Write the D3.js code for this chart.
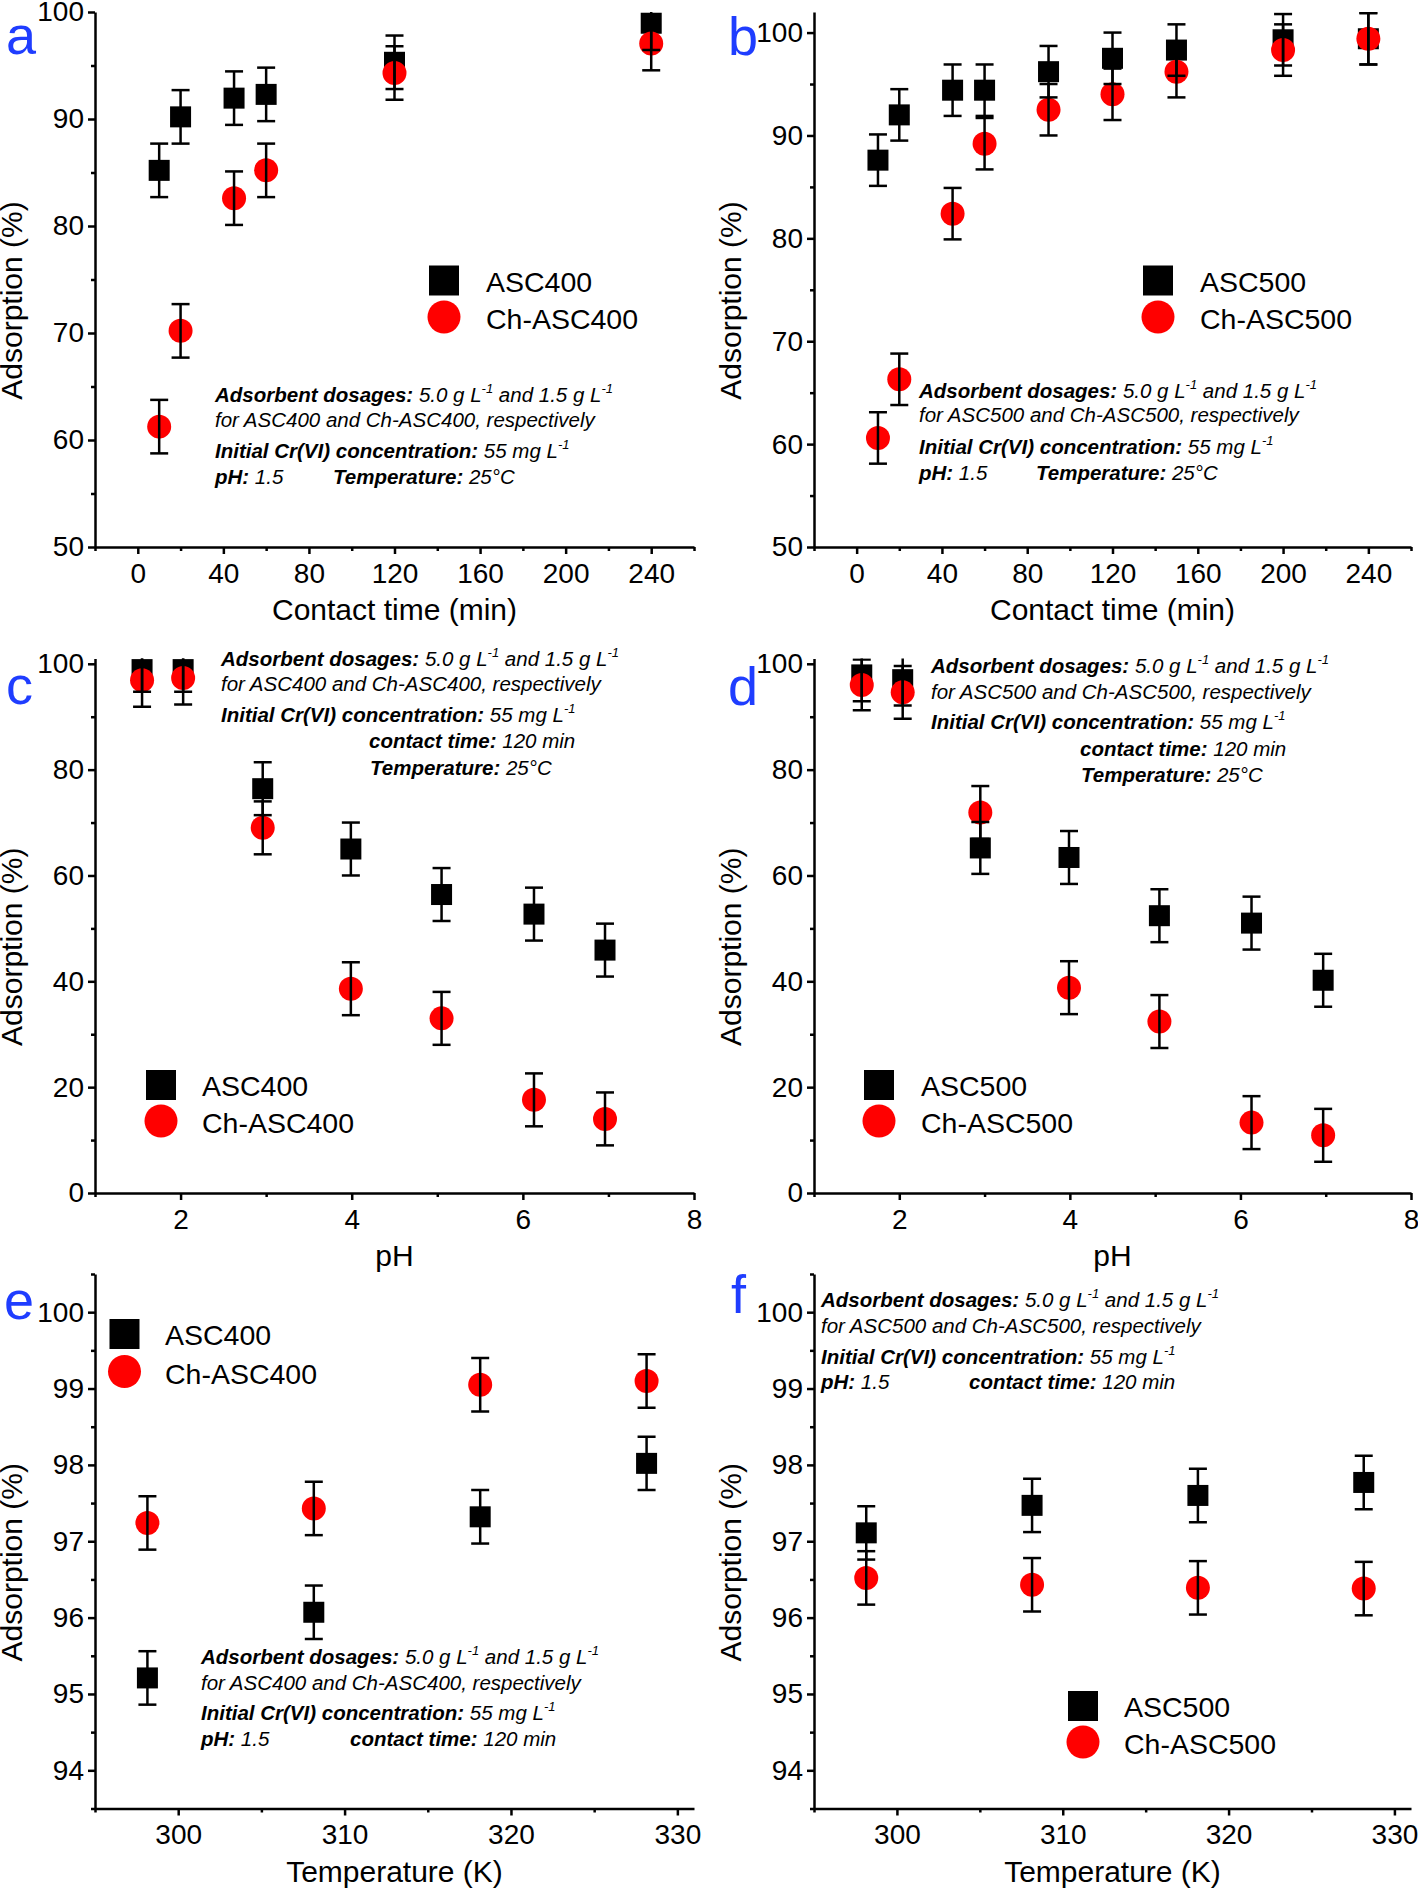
<!DOCTYPE html>
<html>
<head>
<meta charset="utf-8">
<script src="https://cdn.jsdelivr.net/npm/d3@7"></script>
<style>
    body { margin: 0; background: #fff; }
    text { font-family: "Liberation Sans", Arial, sans-serif; }
</style>
</head>
<body>
<svg id="chart" width="1418" height="1888"></svg>
<script>
// --- data ---
// (a) contact time, ASC400 / Ch-ASC400
const timeA = [10, 20, 45, 60, 120, 240];
const asc400Time = [85.2, 90.2, 91.95, 92.3, 95.3, 98.95];
const chAsc400Time = [61.25, 70.2, 82.6, 85.2, 94.3, 97.05];
const asc400TimeErr = [2.5, 2.5, 2.5, 2.5, 2.5, 2.5];
const chAsc400TimeErr = [2.5, 2.5, 2.5, 2.5, 2.5, 2.5];

// (b) contact time, ASC500 / Ch-ASC500
const timeB = [10, 20, 45, 60, 90, 120, 150, 200, 240];
const asc500Time = [87.6, 92.0, 94.4, 94.4, 96.2, 97.5, 98.3, 99.3, 99.4];
const chAsc500Time = [60.6, 66.3, 82.4, 89.2, 92.5, 94.0, 96.2, 98.3, 99.4];
const asc500TimeErr = [2.5, 2.5, 2.5, 2.5, 2.5, 2.5, 2.5, 2.5, 2.5];
const chAsc500TimeErr = [2.5, 2.5, 2.5, 2.5, 2.5, 2.5, 2.5, 2.5, 2.5];

// (c) pH, ASC400 / Ch-ASC400
const phC = [1.55, 2.03, 2.96, 3.99, 5.05, 6.13, 6.96];
const asc400Ph = [98.9, 98.9, 76.4, 65.0, 56.4, 52.7, 45.9];
const chAsc400Ph = [96.9, 97.3, 69.0, 38.6, 33.0, 17.6, 14.0];
const asc400PhErr = [4.2, 4.2, 5, 5, 5, 5, 5];
const chAsc400PhErr = [5, 5, 5, 5, 5, 5, 5];

// (d) pH, ASC500 / Ch-ASC500
const phD = [1.56, 2.04, 2.95, 3.99, 5.05, 6.13, 6.97];
const asc500Ph = [97.9, 97.0, 65.2, 63.4, 52.4, 51.0, 40.2];
const chAsc500Ph = [96.0, 94.6, 71.9, 38.8, 32.4, 13.3, 10.9];
const asc500PhErr = [5, 4.9, 4.9, 5, 5, 5, 5];
const chAsc500PhErr = [4.8, 5, 5, 5, 5, 5, 5];

// (e) temperature, ASC400 / Ch-ASC400
const tempK = [298.15, 308.15, 318.15, 328.15];
const asc400Temp = [95.21, 96.07, 97.32, 98.02];
const chAsc400Temp = [97.24, 97.43, 99.05, 99.10];
const asc400TempErr = [0.35, 0.35, 0.35, 0.35];
const chAsc400TempErr = [0.35, 0.35, 0.35, 0.35];

// (f) temperature, ASC500 / Ch-ASC500
const asc500Temp = [97.11, 97.47, 97.60, 97.77];
const chAsc500Temp = [96.52, 96.43, 96.39, 96.38];
const asc500TempErr = [0.35, 0.35, 0.35, 0.35];
const chAsc500TempErr = [0.35, 0.35, 0.35, 0.35];

// tick values
const timeMajor = [0, 40, 80, 120, 160, 200, 240];
const timeMinor = [-20, 20, 60, 100, 140, 180, 220, 260];
const phMajor = [2, 4, 6, 8];
const phMinor = [1, 3, 5, 7];
const tempMajor = [300, 310, 320, 330];
const tempMinor = [295, 305, 315, 325];
const yMajorTime = [50, 60, 70, 80, 90, 100];
const yMinorTime = [55, 65, 75, 85, 95];
const yMajorPh = [0, 20, 40, 60, 80, 100];
const yMinorPh = [10, 30, 50, 70, 90];
const yMajorTemp = [94, 95, 96, 97, 98, 99, 100];
const yMinorTemp = [93.5, 94.5, 95.5, 96.5, 97.5, 98.5, 99.5, 100.5];

const svg = d3.select("#chart");
const RED = "#ff0000";
const BLUE = "#1f3dff";

// annotation line helpers: b = bold italic label, t = italic text, s = superscript
function dosageLines(a, b) {
    return [
        [{ b: "Adsorbent dosages:" }, { t: " 5.0 g L" }, { s: "-1" }, { t: " and 1.5 g L" }, { s: "-1" }],
        [{ t: "for " + a + " and " + b + ", respectively" }],
        [{ b: "Initial Cr(VI) concentration:" }, { t: " 55 mg L" }, { s: "-1" }]
    ];
}

function drawAnnotation(x, ys, lines, extra) {
    const all = lines.map((segs, i) => ({ x: x, y: ys[i], segs: segs })).concat(extra);
    all.forEach(line => {
        const t = svg.append("text")
            .attr("x", line.x)
            .attr("y", line.y)
            .style("font-size", "20.5px")
            .style("font-style", "italic");
        let shift = 0;
        line.segs.forEach(s => {
            const ts = t.append("tspan");
            if (s.s) {
                ts.text(s.s).style("font-size", "13px").attr("dy", -9 - shift);
                shift = -9;
            } else {
                ts.text(s.b || s.t).attr("dy", -shift);
                shift = 0;
                if (s.b) ts.style("font-weight", "bold");
            }
        });
    });
}

function drawPanel(p) {
    const x = d3.scaleLinear().domain(p.xDomain).range([p.left, p.right]);
    const y = d3.scaleLinear().domain(p.yDomain).range([p.bottom, p.top]);

    // clip region for error bars (Origin cuts them at the axis ends)
    svg.append("clipPath").attr("id", "clip-" + p.letter)
        .append("rect")
        .attr("x", p.left - 40).attr("y", p.top)
        .attr("width", p.right - p.left + 80).attr("height", p.bottom - p.top);

    // --- axes ---
    const gx = svg.append("g").attr("transform", `translate(0,${p.bottom})`);
    gx.call(d3.axisBottom(x).tickValues(p.xMajor).tickSize(7).tickSizeOuter(0).tickPadding(9).tickFormat(d3.format("d")));
    const gxm = svg.append("g").attr("transform", `translate(0,${p.bottom})`);
    gxm.call(d3.axisBottom(x).tickValues(p.xMinor).tickSize(4).tickFormat(""));
    gxm.select(".domain").remove();

    const gy = svg.append("g").attr("transform", `translate(${p.left},0)`);
    gy.call(d3.axisLeft(y).tickValues(p.yMajor).tickSize(7).tickSizeOuter(0).tickPadding(4).tickFormat(d3.format("d")));
    const gym = svg.append("g").attr("transform", `translate(${p.left},0)`);
    gym.call(d3.axisLeft(y).tickValues(p.yMinor.filter(v => v <= p.yDomain[1])).tickSize(4).tickFormat(""));
    gym.select(".domain").remove();

    [gx, gxm, gy, gym].forEach(g => {
        g.selectAll("path, line").attr("stroke", "#000").attr("stroke-width", 2.5);
        g.selectAll("text").attr("fill", "#000").style("font-size", "28px")
            .style("font-family", "'Liberation Sans', Arial, sans-serif");
    });

    // axis titles
    svg.append("text")
        .attr("x", (p.left + p.right) / 2)
        .attr("y", p.bottom + 73)
        .attr("text-anchor", "middle")
        .style("font-size", "30px")
        .text(p.xTitle);

    svg.append("text")
        .attr("transform", "rotate(-90)")
        .attr("x", -((p.top + p.bottom) / 2 + 21))
        .attr("y", p.left - 73)
        .attr("text-anchor", "middle")
        .style("font-size", "30px")
        .text("Adsorption (%)");

    // panel letter
    svg.append("text")
        .attr("x", p.letterX)
        .attr("y", p.letterY)
        .attr("fill", BLUE)
        .style("font-size", "54px")
        .text(p.letter);

    // --- markers: squares, then circles, then error bars on top ---
    const sqData = p.xs.map((v, i) => ({ x: v, y: p.sq[i], e: p.sqErr[i] }));
    const ciData = p.xs.map((v, i) => ({ x: v, y: p.ci[i], e: p.ciErr[i] }));

    svg.append("g").selectAll("rect")
        .data(sqData).enter().append("rect")
        .attr("x", d => x(d.x) - 10.5)
        .attr("y", d => y(d.y) - 10.5)
        .attr("width", 21)
        .attr("height", 21)
        .attr("fill", "#000");

    svg.append("g").selectAll("circle")
        .data(ciData).enter().append("circle")
        .attr("cx", d => x(d.x))
        .attr("cy", d => y(d.y))
        .attr("r", 12)
        .attr("fill", RED);

    const eb = svg.append("g")
        .attr("clip-path", `url(#clip-${p.letter})`)
        .attr("stroke", "#000")
        .attr("stroke-width", 2.5);
    sqData.concat(ciData).forEach(d => {
        const cx = x(d.x), y1 = y(d.y + d.e), y0 = y(d.y - d.e);
        eb.append("line").attr("x1", cx).attr("x2", cx).attr("y1", y1).attr("y2", y0);
        eb.append("line").attr("x1", cx - 9).attr("x2", cx + 9).attr("y1", y1).attr("y2", y1);
        eb.append("line").attr("x1", cx - 9).attr("x2", cx + 9).attr("y1", y0).attr("y2", y0);
    });

    // --- legend ---
    const lg = p.legend;
    svg.append("rect")
        .attr("x", lg.mx - 15).attr("y", lg.y1 - 15)
        .attr("width", 30).attr("height", 30).attr("fill", "#000");
    svg.append("circle")
        .attr("cx", lg.mx).attr("cy", lg.y2).attr("r", 16.5).attr("fill", RED);
    svg.append("text").attr("x", lg.tx).attr("y", lg.y1 + 11)
        .style("font-size", "28.5px").text(p.names[0]);
    svg.append("text").attr("x", lg.tx).attr("y", lg.y2 + 12)
        .style("font-size", "28.5px").text(p.names[1]);

    // --- annotation ---
    drawAnnotation(p.note.x, p.note.ys, dosageLines(p.names[0], p.names[1]), p.note.extra);
}

const LEFT_COL = { left: 95, right: 694 };
const RIGHT_COL = { left: 814, right: 1411 };

drawPanel({
    letter: "a", letterX: 6, letterY: 54, ...LEFT_COL, top: 12, bottom: 547,
    xDomain: [-20, 260], yDomain: [50, 100], xMajor: timeMajor, xMinor: timeMinor,
    yMajor: yMajorTime, yMinor: yMinorTime, xTitle: "Contact time (min)",
    xs: timeA, sq: asc400Time, ci: chAsc400Time, sqErr: asc400TimeErr, ciErr: chAsc400TimeErr,
    names: ["ASC400", "Ch-ASC400"],
    legend: { mx: 444, tx: 486, y1: 280.5, y2: 317 },
    note: { x: 215, ys: [402, 426.5, 458], extra: [
        { x: 215, y: 483.7, segs: [{ b: "pH:" }, { t: " 1.5" }] },
        { x: 333, y: 483.7, segs: [{ b: "Temperature:" }, { t: " 25°C" }] }
    ] }
});

drawPanel({
    letter: "b", letterX: 728, letterY: 55, ...RIGHT_COL, top: 12, bottom: 547,
    xDomain: [-20, 260], yDomain: [50, 102], xMajor: timeMajor, xMinor: timeMinor,
    yMajor: yMajorTime, yMinor: yMinorTime, xTitle: "Contact time (min)",
    xs: timeB, sq: asc500Time, ci: chAsc500Time, sqErr: asc500TimeErr, ciErr: chAsc500TimeErr,
    names: ["ASC500", "Ch-ASC500"],
    legend: { mx: 1158, tx: 1200, y1: 280.5, y2: 317 },
    note: { x: 919, ys: [398, 422.4, 454], extra: [
        { x: 919, y: 479.6, segs: [{ b: "pH:" }, { t: " 1.5" }] },
        { x: 1036, y: 479.6, segs: [{ b: "Temperature:" }, { t: " 25°C" }] }
    ] }
});

drawPanel({
    letter: "c", letterX: 6, letterY: 704, ...LEFT_COL, top: 658.5, bottom: 1193,
    xDomain: [1, 8], yDomain: [0, 101], xMajor: phMajor, xMinor: phMinor,
    yMajor: yMajorPh, yMinor: yMinorPh, xTitle: "pH",
    xs: phC, sq: asc400Ph, ci: chAsc400Ph, sqErr: asc400PhErr, ciErr: chAsc400PhErr,
    names: ["ASC400", "Ch-ASC400"],
    legend: { mx: 161, tx: 202, y1: 1085, y2: 1121 },
    note: { x: 221, ys: [666, 691, 722], extra: [
        { x: 369, y: 748.4, segs: [{ b: "contact time:" }, { t: " 120 min" }] },
        { x: 370, y: 775, segs: [{ b: "Temperature:" }, { t: " 25°C" }] }
    ] }
});

drawPanel({
    letter: "d", letterX: 728, letterY: 705, ...RIGHT_COL, top: 658.5, bottom: 1193,
    xDomain: [1, 8], yDomain: [0, 101], xMajor: phMajor, xMinor: phMinor,
    yMajor: yMajorPh, yMinor: yMinorPh, xTitle: "pH",
    xs: phD, sq: asc500Ph, ci: chAsc500Ph, sqErr: asc500PhErr, ciErr: chAsc500PhErr,
    names: ["ASC500", "Ch-ASC500"],
    legend: { mx: 879, tx: 921, y1: 1085, y2: 1121 },
    note: { x: 931, ys: [673, 699.4, 729], extra: [
        { x: 1080, y: 755.7, segs: [{ b: "contact time:" }, { t: " 120 min" }] },
        { x: 1081, y: 781.8, segs: [{ b: "Temperature:" }, { t: " 25°C" }] }
    ] }
});

drawPanel({
    letter: "e", letterX: 4, letterY: 1319, ...LEFT_COL, top: 1274, bottom: 1808.5,
    xDomain: [295, 331], yDomain: [93.5, 100.5], xMajor: tempMajor, xMinor: tempMinor,
    yMajor: yMajorTemp, yMinor: yMinorTemp, xTitle: "Temperature (K)",
    xs: tempK, sq: asc400Temp, ci: chAsc400Temp, sqErr: asc400TempErr, ciErr: chAsc400TempErr,
    names: ["ASC400", "Ch-ASC400"],
    legend: { mx: 124.5, tx: 165, y1: 1334, y2: 1371.5 },
    note: { x: 201, ys: [1664, 1689.8, 1720], extra: [
        { x: 201, y: 1746, segs: [{ b: "pH:" }, { t: " 1.5" }] },
        { x: 350, y: 1746, segs: [{ b: "contact time:" }, { t: " 120 min" }] }
    ] }
});

drawPanel({
    letter: "f", letterX: 731, letterY: 1313, ...RIGHT_COL, top: 1274, bottom: 1808.5,
    xDomain: [295, 331], yDomain: [93.5, 100.5], xMajor: tempMajor, xMinor: tempMinor,
    yMajor: yMajorTemp, yMinor: yMinorTemp, xTitle: "Temperature (K)",
    xs: tempK, sq: asc500Temp, ci: chAsc500Temp, sqErr: asc500TempErr, ciErr: chAsc500TempErr,
    names: ["ASC500", "Ch-ASC500"],
    legend: { mx: 1083, tx: 1124, y1: 1706, y2: 1742 },
    note: { x: 821, ys: [1307.4, 1333, 1363.8], extra: [
        { x: 821, y: 1389, segs: [{ b: "pH:" }, { t: " 1.5" }] },
        { x: 969, y: 1389, segs: [{ b: "contact time:" }, { t: " 120 min" }] }
    ] }
});
</script>
</body>
</html>
